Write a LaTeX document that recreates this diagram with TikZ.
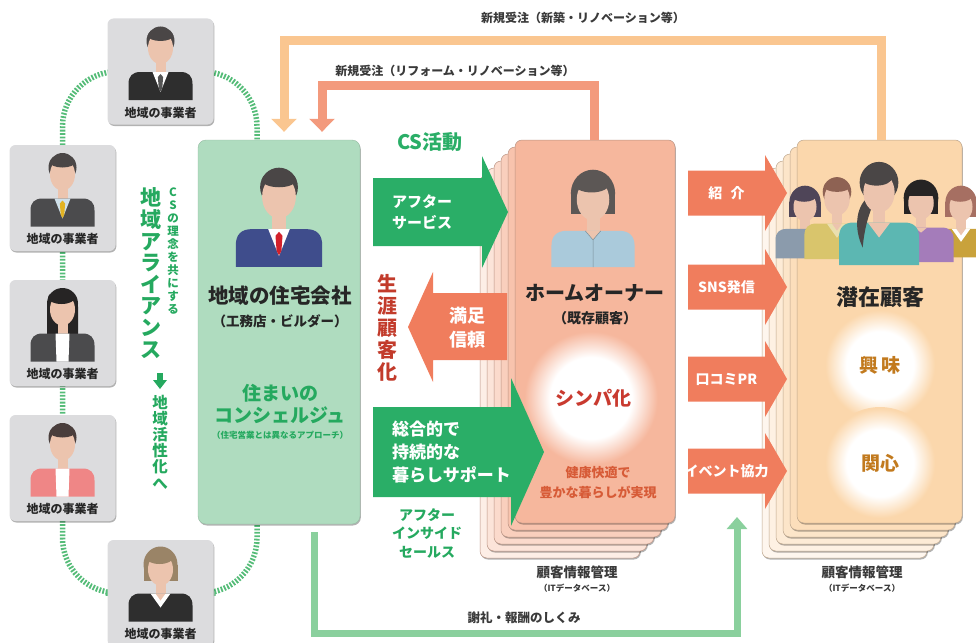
\documentclass[tikz,border=0pt]{standalone}
\usepackage{fontspec}
\setmainfont{Noto Sans CJK JP}
\usetikzlibrary{arrows.meta,shadows,backgrounds}

% ---------- palette ----------
\definecolor{bizgrey}{HTML}{DCDCDE}
\definecolor{inkdark}{HTML}{262626}
\definecolor{inkgrey}{HTML}{3A3A3A}
\definecolor{coGreen}{HTML}{AFDCBF}
\definecolor{csGreen}{HTML}{2AAE67}
\definecolor{txtGreen}{HTML}{25A95F}
\definecolor{loopGreen}{HTML}{55BC78}
\definecolor{thanksGreen}{HTML}{8AD09D}
\definecolor{referSalmon}{HTML}{F07D5D}
\definecolor{orderLight}{HTML}{FAC690}
\definecolor{orderSalmon}{HTML}{F39A7D}
\definecolor{lifeRed}{HTML}{C23B2B}
\definecolor{sympRed}{HTML}{C93A2F}
\definecolor{wellRed}{HTML}{D75B37}
\definecolor{interestBrown}{HTML}{C27A1E}
\definecolor{skin}{HTML}{ECC4AE}
\definecolor{hoA}{HTML}{F6B79D}
\definecolor{hoB}{HTML}{F8C3AD}
\definecolor{hoC}{HTML}{F9CFBD}
\definecolor{hoD}{HTML}{FBDACC}
\definecolor{hoE}{HTML}{FCE4D9}
\definecolor{hoF}{HTML}{FDEEE6}
\definecolor{hoEdge}{HTML}{B99383}
\definecolor{potA}{HTML}{FBD7AC}
\definecolor{potB}{HTML}{FCDEBB}
\definecolor{potC}{HTML}{FCE5C9}
\definecolor{potD}{HTML}{FDEBD6}
\definecolor{potE}{HTML}{FEF1E3}
\definecolor{potF}{HTML}{FEF6EE}
\definecolor{potEdge}{HTML}{BCA58C}
\definecolor{hairDark}{HTML}{4A4646}
\definecolor{hairBlack}{HTML}{262424}
\definecolor{hairCocoa}{HTML}{4A3E3C}
\definecolor{hairGreyBrown}{HTML}{9A8467}
\definecolor{hairOwner}{HTML}{5C5755}
\definecolor{hairPurple}{HTML}{4F4558}
\definecolor{hairBrown}{HTML}{8E6253}
\definecolor{hairRed}{HTML}{A66F62}
\definecolor{suitBlack}{HTML}{2E2E2E}
\definecolor{suitGrey}{HTML}{4B4B4D}
\definecolor{suitBlue}{HTML}{3F4D8C}
\definecolor{tieDark}{HTML}{555555}
\definecolor{tieRed}{HTML}{D3212B}
\definecolor{tieYellow}{HTML}{E2B323}
\definecolor{shirtBlue}{HTML}{CFE0EA}
\definecolor{jacketPink}{HTML}{EF8686}
\definecolor{blouseBlue}{HTML}{AACADB}
\definecolor{khaki}{HTML}{D9C56C}
\definecolor{teal}{HTML}{5CB7B2}
\definecolor{violet}{HTML}{A47CBA}
\definecolor{mustard}{HTML}{C9A23B}
\definecolor{slate}{HTML}{8B9BAC}

% soft white halo on the two card colours (25bp = rim of the shaded circle)
\pgfdeclareradialshading{glowHo}{\pgfpoint{0bp}{0bp}}{color(0bp)=(white); color(15bp)=(white); color(24.5bp)=(hoA); color(50bp)=(hoA)}
\pgfdeclareradialshading{glowPot}{\pgfpoint{0bp}{0bp}}{color(0bp)=(white); color(15bp)=(white); color(24.5bp)=(potA); color(50bp)=(potA)}

% ---------- person busts (head centre at the origin) ----------
\newcommand\bodylen{54}
\newcommand\drawbust[7]{%
  \begin{scope}[shift={(#1,#2)},scale=#3]
    #4
    \fill[skin] (-5,6) rectangle (5,30);
    \fill[#5] (-32,\bodylen) -- (-32,38) .. controls (-32,30) and (-28,26) .. (-20,26)
      -- (20,26) .. controls (28,26) and (32,30) .. (32,38) -- (32,\bodylen) -- cycle;
    #6
    \fill[skin] (0,2) ellipse (12.5 and 16);
    #7
  \end{scope}}
\newcommand\malehair[1]{\fill[#1] (0,-5) ellipse (14 and 14.5);}
\newcommand\malefringe[1]{\fill[#1] (0,-10.5) ellipse (12.8 and 5.5);}
\newcommand\bobhair[1]{\fill[#1] (0,-3) ellipse (17 and 18); \fill[#1] (-17,-3) rectangle (17,13);}
\newcommand\bobfringe[1]{\fill[#1] (-1,-10) ellipse (13.5 and 6.5);}
\newcommand\longhair[1]{\fill[#1] (0,-4) ellipse (15.5 and 15.5); \fill[#1,rounded corners=3pt] (-15.5,-4) rectangle (15.5,32);}
\newcommand\shirttie[2]{\fill[#1] (-8,26) -- (8,26) -- (0,46) -- cycle;
  \fill[#2] (0,28) -- (2.6,31) -- (1.8,42) -- (0,45.5) -- (-1.8,42) -- (-2.6,31) -- cycle;}
\newcommand\blouse[1]{\fill[#1] (-7,26) -- (7,26) -- (6,\bodylen) -- (-6,\bodylen) -- cycle;}
\newcommand\collarV[1]{\fill[#1] (-10,26) -- (10,26) -- (0,40) -- cycle; \fill[skin] (-5,26) -- (5,26) -- (0,33) -- cycle;}
\newcommand\referarrow[1]{\fill[referSalmon] (688,{#1-22.5}) -- (765,{#1-22.5}) -- (765,{#1-38}) -- (787,#1)
  -- (765,{#1+38}) -- (765,{#1+22.5}) -- (688,{#1+22.5}) -- cycle;}

\begin{document}
\begin{tikzpicture}[x=1pt,y=-1pt,
  softshadow/.style={drop shadow={shadow xshift=0.8pt,shadow yshift=-1.5pt,opacity=0.3,fill=black}},
  bizcard/.style={fill=bizgrey,rounded corners=6pt,minimum width=106pt,minimum height=106pt,inner sep=0pt,softshadow},
  bizlabel/.style={font=\bfseries\fontsize{12}{13}\selectfont,text=inkdark,inner sep=0pt},
  companybox/.style={fill=coGreen,draw=coGreen!85!black,line width=0.4pt,rounded corners=8pt,
    minimum width=162pt,minimum height=384pt,inner sep=0pt,softshadow},
  stackcard/.style={rounded corners=7pt,inner sep=0pt,line width=0.5pt,softshadow},
  hocard/.style={stackcard,minimum width=160pt,minimum height=383pt,draw=hoEdge},
  potcard/.style={stackcard,minimum width=165pt,minimum height=383pt,draw=potEdge},
  loopdash/.style={draw=loopGreen,line width=5.5pt,dash pattern=on 1.8pt off 1.6pt},
  orderA/.style={draw=orderLight,line width=9pt,-{Triangle[width=25pt,length=13pt]}},
  orderB/.style={draw=orderSalmon,line width=9pt,-{Triangle[width=25pt,length=13pt]}},
  thanks/.style={draw=thanksGreen,line width=7pt,-{Triangle[width=20pt,length=12pt]}},
  flowlabel/.style={font=\bfseries\fontsize{12}{13}\selectfont,text=inkgrey,inner sep=0pt},
  vtext/.style={align=center,inner sep=0pt},
  plain/.style={inner sep=0pt,align=center},
  dbtitle/.style={font=\bfseries\fontsize{13.5}{14}\selectfont,text=inkgrey,inner sep=0pt},
  dbsub/.style={font=\bfseries\fontsize{8.5}{9}\selectfont,text=inkgrey,inner sep=0pt},
  refertext/.style={font=\bfseries\fontsize{14}{15}\selectfont,text=white,inner sep=0pt}]

\useasboundingbox (0,0) rectangle (976,642);

% ---------- local business partners ----------
\node[bizcard] (biz1) at (160.5,71.5) {};
\node[bizcard] (biz2) at (62.5,198) {};
\node[bizcard] (biz3) at (62.5,333) {};
\node[bizcard] (biz4) at (62.5,468) {};
\node[bizcard] (biz5) at (160.5,593) {};

\drawbust{160.5}{46}{1}{\malehair{hairDark}}{suitBlack}{\shirttie{white}{tieDark}}{\malefringe{hairDark}}
\drawbust{62.5}{172.5}{1}{\malehair{hairDark}}{suitGrey}{\shirttie{shirtBlue}{tieYellow}}{\malefringe{hairDark}}
\drawbust{62.5}{307.5}{1}{\longhair{hairBlack}}{suitGrey}{\blouse{white}}{\bobfringe{hairBlack}}
\drawbust{62.5}{442.5}{1}{\malehair{hairCocoa}}{jacketPink}{\blouse{white}}{\malefringe{hairCocoa}}
\drawbust{160.5}{567.5}{1}{\bobhair{hairGreyBrown}}{suitBlack}{\collarV{white}}{\bobfringe{hairGreyBrown}}

\foreach \b in {1,...,5}
  \node[bizlabel] (biz\b t) at ([yshift=-41pt]biz\b.center) {地域の事業者};

% ---------- housing company ----------
\node[companybox] (co) at (279,332) {};
\drawbust{279}{194}{1.35}{\malehair{hairDark}}{suitBlue}{\shirttie{white}{tieRed}}{\malefringe{hairDark}}
\node[plain,font=\bfseries\fontsize{20.5}{22}\selectfont,text=inkdark] (coname) at (280,296) {地域の住宅会社};
\node[plain,font=\bfseries\fontsize{13.5}{15}\selectfont,text=inkdark] (cosub) at (280,321) {（工務店・ビルダー）};
\node[plain,font=\bfseries\fontsize{19}{22}\selectfont,text=txtGreen] (concierge) at (280,404) {住まいの\\コンシェルジュ};
\node[plain,font=\bfseries\fontsize{8.5}{9}\selectfont,text=txtGreen] (approach) at (280,435) {（住宅営業とは異なるアプローチ）};

% ---------- home owners (stacked records) ----------
\foreach \k/\c in {5/hoF,4/hoE,3/hoD,2/hoC,1/hoB}
  \node[hocard,fill=\c] (ho\k) at ({595-7*\k},{331.5+7*\k}) {};
\node[hocard,fill=hoA] (ho) at (595,331.5) {};
\drawbust{593}{197}{1.3}{\bobhair{hairOwner}}{blouseBlue}{\fill[skin] (-6,26) -- (6,26) -- (0,33) -- cycle;
  \draw[blouseBlue!70!black,line width=0.5pt] (-6,26) -- (0,33) -- (6,26) (0,33) -- (0,\bodylen);}{\bobfringe{hairOwner}}
\node[plain,font=\bfseries\fontsize{20}{22}\selectfont,text=inkdark] (honame) at (595,293) {ホームオーナー};
\node[plain,font=\bfseries\fontsize{14}{15}\selectfont,text=inkdark] (hosub) at (595,318) {（既存顧客）};
\shade[shading=glowHo] (591,398) circle (68);
\node[plain,font=\bfseries\fontsize{19}{20}\selectfont,text=sympRed] (symp) at (593,398) {シンパ化};
\node[plain,font=\bfseries\fontsize{13}{20}\selectfont,text=wellRed] (wellbeing) at (598,483) {健康快適で\\豊かな暮らしが実現};
\node[dbtitle] (hodb) at (577,572) {顧客情報管理};
\node[dbsub] (hodbsub) at (577,588) {（ITデータベース）};

% ---------- prospective customers (stacked records) ----------
\foreach \k/\c in {5/potF,4/potE,3/potD,2/potC,1/potB}
  \node[potcard,fill=\c] (pot\k) at ({879.5-7*\k},{331.5+7*\k}) {};
\node[potcard,fill=potA] (pot) at (879.5,331.5) {};

\renewcommand\bodylen{58}
\drawbust{805}{205}{0.92}{\bobhair{hairPurple}}{slate}{}{\bobfringe{hairPurple}}
\renewcommand\bodylen{61}
\drawbust{837}{197}{1.02}{\malehair{hairBrown}}{khaki}{\collarV{khaki!55!white}}{\malefringe{hairBrown}}
\renewcommand\bodylen{57}
\drawbust{961}{205}{0.92}{\bobhair{hairRed}}{mustard}{\collarV{white}}{\bobfringe{hairRed}}
\renewcommand\bodylen{60}
\drawbust{921}{201}{1.02}{\bobhair{hairBlack}}{violet}{\fill[skin] (-6,26) -- (6,26) -- (0,31) -- cycle;}{\fill[hairBlack] (-12,-15) rectangle (12,-5);}
\renewcommand\bodylen{60}
\drawbust{879}{190}{1.25}{\fill[hairDark] (0,-6) ellipse (15.5 and 16.5);}{teal}{\fill[skin] (-9,26) -- (9,26) -- (0,38) -- cycle;
  \fill[hairDark] (-9,6) .. controls (-19,14) and (-20,32) .. (-13,46) .. controls (-12,32) and (-8,18) .. (-4,10) -- cycle;}{\fill[hairDark] (-2,-10) ellipse (12.5 and 6.5);}
\renewcommand\bodylen{54}

\node[plain,font=\bfseries\fontsize{22}{24}\selectfont,text=inkdark] (potname) at (880,297) {潜在顧客};
\shade[shading=glowPot] (880,365) circle (56);
\node[plain,font=\bfseries\fontsize{19}{20}\selectfont,text=interestBrown] (interest) at (880,365) {興\hspace{3pt}味};
\shade[shading=glowPot] (880,463) circle (56);
\node[plain,font=\bfseries\fontsize{19}{20}\selectfont,text=interestBrown] (concern) at (880,463) {関心};
\node[dbtitle] (potdb) at (862,572) {顧客情報管理};
\node[dbsub] (potdbsub) at (862,588) {（ITデータベース）};

% ---------- CS activity arrows ----------
\node[plain,font=\bfseries\fontsize{20}{22}\selectfont,text=csGreen] (cs) at (430,142) {CS活動};
\fill[csGreen] (373,178) -- (482,178) -- (482,156) -- (508,212) -- (482,268) -- (482,246) -- (373,246) -- cycle;
\node[plain,anchor=west,align=left,font=\bfseries\fontsize{15}{21}\selectfont,text=white] (aftersvc) at (392,212) {アフター\\サービス};
\fill[referSalmon] (507,293) -- (433,293) -- (433,272) -- (408,327) -- (433,382) -- (433,360) -- (507,360) -- cycle;
\node[plain,font=\bfseries\fontsize{18}{24}\selectfont,text=white] (trust) at (467,328) {満足\\信頼};
\fill[csGreen] (373,407) -- (511,407) -- (511,378) -- (544,452) -- (511,526) -- (511,497) -- (373,497) -- cycle;
\node[plain,anchor=west,align=left,font=\bfseries\fontsize{17}{23}\selectfont,text=white] (support) at (392,452) {総合的で\\持続的な\\暮らしサポート};
\node[plain,font=\bfseries\fontsize{14}{18.5}\selectfont,text=txtGreen] (insidesales) at (427,533) {アフター\\インサイド\\セールス};
\node[vtext,font=\bfseries\fontsize{20}{22}\selectfont,text=lifeRed] (lifelong) at (387,328) {生\\涯\\顧\\客\\化};

% ---------- referral arrows ----------
\referarrow{193}
\referarrow{287}
\referarrow{379}
\referarrow{471}
\node[refertext] (refer1) at (726.5,193) {紹\hspace{0.6em}介};
\node[refertext] (refer2) at (726.5,287) {SNS発信};
\node[refertext] (refer3) at (726.5,379) {口コミPR};
\node[refertext] (refer4) at (726.5,471) {イベント協力};
\coordinate (evtip) at (737,517);

% ---------- alliance lettering ----------
\node[vtext,font=\bfseries\fontsize{11.5}{13}\selectfont,text=txtGreen] (csidea) at (173,251) {C\\S\\の\\理\\念\\を\\共\\に\\す\\る};
\node[vtext,font=\bfseries\fontsize{21}{21.6}\selectfont,text=txtGreen] (alliance) at (151,273) {地\\域\\ア\\ラ\\イ\\ア\\ン\\ス};
\fill[txtGreen] (157,373) rectangle (163,381);
\fill[txtGreen] (153,380) -- (167,380) -- (160,389) -- cycle;
\node[vtext,font=\bfseries\fontsize{15.5}{16.2}\selectfont,text=txtGreen] (revital) at (160,442) {地\\域\\活\\性\\化\\へ};

% ---------- order flows and reward loop ----------
\draw[orderA] ([xshift=2pt]pot.north) -- ++(0,-99) -| ([xshift=5pt,yshift=8pt]co.north);
\draw[orderB] ([xshift=-1pt]ho.north) -- ++(0,-54) -| ([xshift=43pt,yshift=8pt]co.north);
\draw[thanks] ([xshift=35pt,yshift=-8pt]co.south) -- ++(0,101) -| (evtip);
\node[flowlabel] (orderAlab) at (583,18) {新規受注（新築・リノベーション等）};
\node[flowlabel] (orderBlab) at (455,71) {新規受注（リフォーム・リノベーション等）};
\node[flowlabel,font=\bfseries\fontsize{12.5}{13}\selectfont] (thankslab) at (524,618) {謝礼・報酬のしくみ};

% ---------- alliance ring behind the partners ----------
\begin{pgfonlayer}{background}
  \draw[loopdash,rounded corners=55pt] (biz1.center) -| (biz2.center) -- (biz4.center)
    |- (biz5.center) -| ([xshift=-22pt]co.center) |- (biz1.center);
\end{pgfonlayer}
\end{tikzpicture}
\end{document}
